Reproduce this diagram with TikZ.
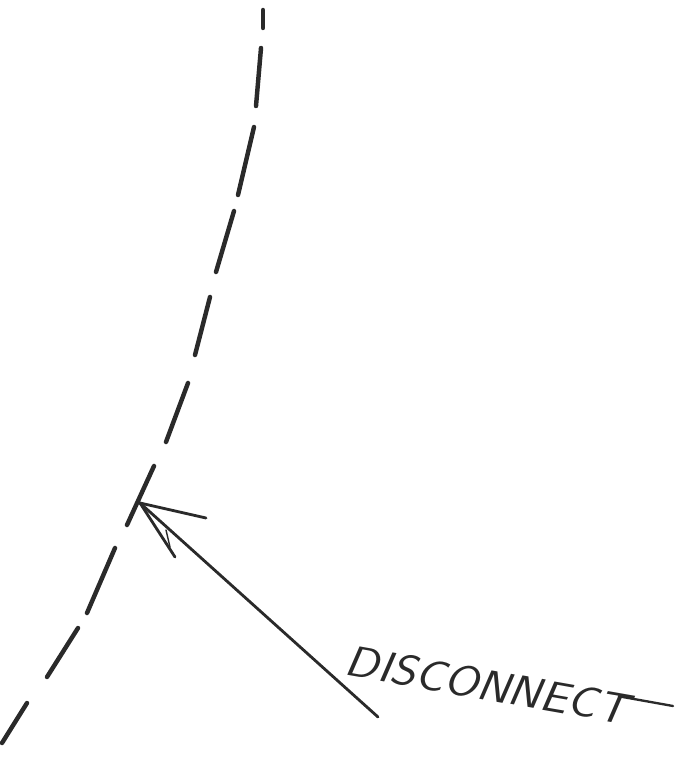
\documentclass[tikz,border=0pt]{standalone}
\usetikzlibrary{positioning}

\definecolor{penStroke}{HTML}{2A2A2A}

\begin{document}
\begin{tikzpicture}[
    x=0.03cm, y=-0.03cm,
    dashStroke/.style={draw=penStroke, line width=3.8pt, line cap=round},
    arrowStroke/.style={draw=penStroke, line width=2.4pt, line cap=round},
    label/.style={font=\sffamily\itshape\fontsize{37}{40}\selectfont, text=penStroke,
        rotate=-10, xscale=1.12, inner sep=0pt, anchor=west}
]
\useasboundingbox (0,0) rectangle (677,761);

% Hand drawn dashed boundary, one piece per dash
\foreach \xa/\ya/\xb/\yb in {263/10/263/28, 261/48/256/106, 254/127/238/195,
    234/211/216/272, 210/297/195/355, 188/383/166/442, 154/466/127/525,
    115/548/87/613, 78/628/47/677, 27/703/2/743}
  \draw[dashStroke] (\xa,\ya) -- (\xb,\yb);

% Label and pointer
\node[label] (Disconnect) at (346,660) {DISCONNECT};
\coordinate (Tip) at (140,503);
\coordinate (Tail) at (378,717);
\coordinate (BarbA) at (206,518);
\coordinate (BarbB) at (175,557);
\coordinate (BarEnd) at (673,706);

\draw[arrowStroke] (Tail) -- (Tip);
\draw[arrowStroke] (Tip) -- (BarbA);
\draw[arrowStroke] (Tip) -- (BarbB);
\draw[arrowStroke, line width=1.2pt] (166,530) -- (170,547);
\draw[arrowStroke, line width=2pt] ([xshift=-10pt,yshift=-2pt]Disconnect.north east) -- (BarEnd);

\end{tikzpicture}
\end{document}
